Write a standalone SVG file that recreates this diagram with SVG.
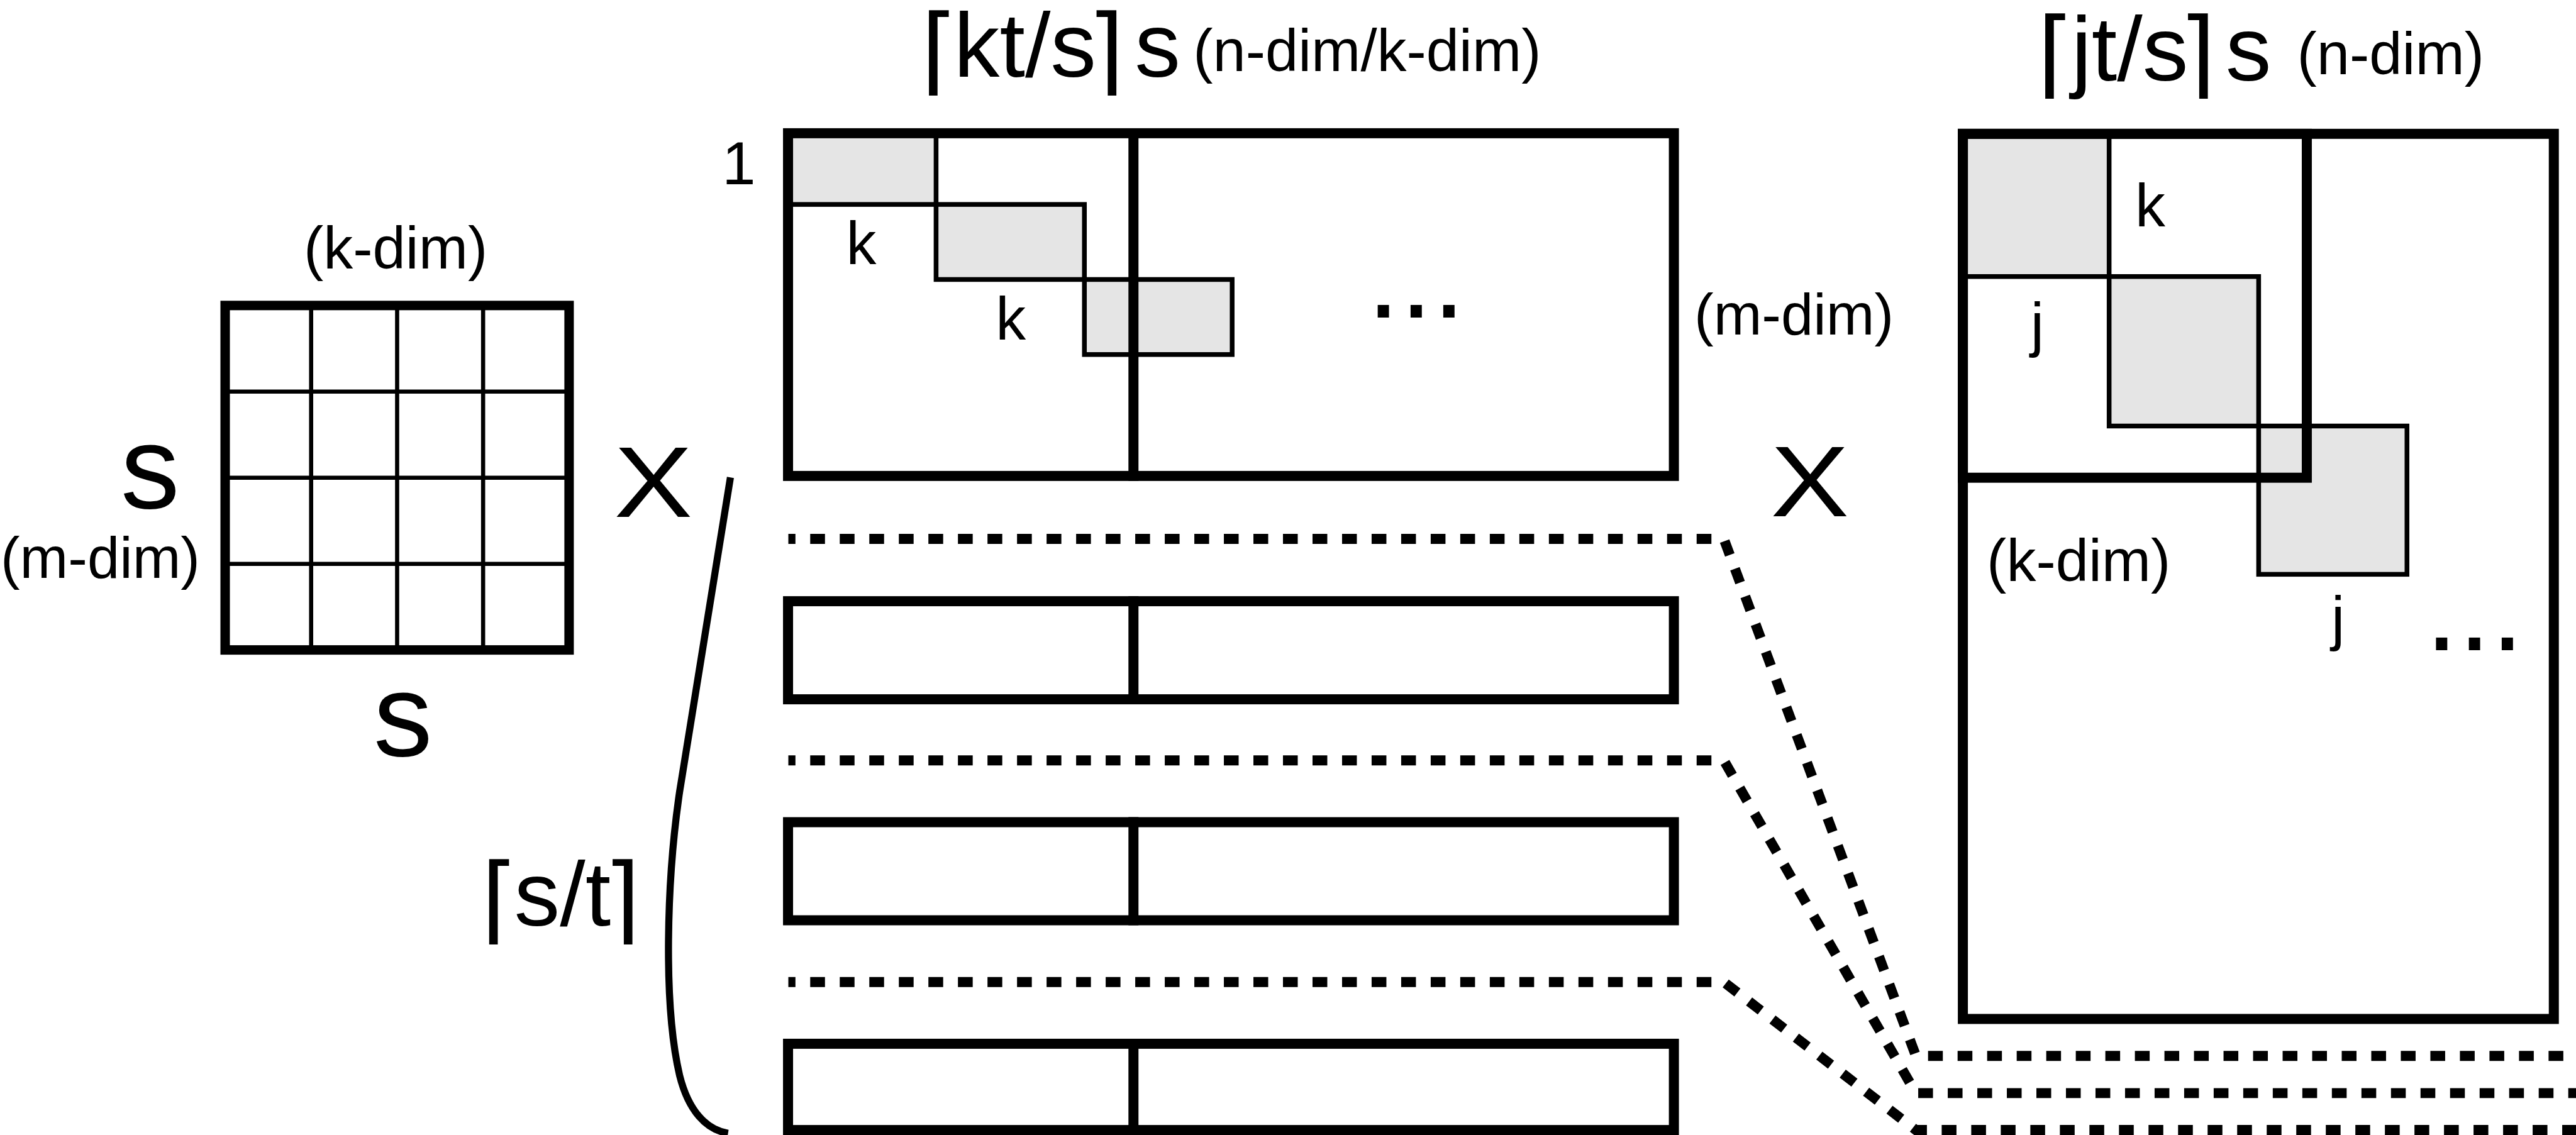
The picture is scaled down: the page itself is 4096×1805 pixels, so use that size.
<svg xmlns="http://www.w3.org/2000/svg" width="4096" height="1805" viewBox="0 0 4096 1805">
<style>
.t{font-family:"Liberation Sans",Arial,sans-serif;fill:#000}
.br{font-family:"DejaVu Sans",sans-serif;font-size:162px}
.thick{fill:none;stroke:#000;stroke-width:17}
.thin{fill:#e5e5e5;stroke:#000;stroke-width:8}
.grid{fill:none;stroke:#000;stroke-width:7}
.dot{fill:none;stroke:#000;stroke-width:17;stroke-dasharray:25 25;stroke-dashoffset:13}
.brace{fill:none;stroke:#000;stroke-width:12}
</style>
<rect width="4096" height="1805" fill="#fff"/>
<g transform="scale(0.93966)">
<g id="grid-matrix">
<rect x="381" y="517" width="582" height="583" fill="none" stroke="#000" stroke-width="16"/>
<path class="grid" d="M526.5,517V1100M672,517V1100M817.5,517V1100M381,662.75H963M381,808.5H963M381,954.25H963"/>
<text class="t" font-size="100" x="514" y="454">(k-dim)</text>
<text class="t" font-size="200" x="204" y="860">s</text>
<text class="t" font-size="98" x="1" y="978">(m-dim)</text>
<text class="t" font-size="200" x="632" y="1279">s</text>
</g>
<g id="times-left">
<text class="t" font-size="169" transform="translate(1039,875) scale(1.18,1)">X</text>
</g>
<g id="matrix-a">
<rect class="thin" x="1333.5" y="225.5" width="250.5" height="120.5"/>
<rect class="thin" x="1584" y="346" width="251" height="127"/>
<rect class="thin" x="1835" y="473" width="250" height="127"/>
<rect class="thick" x="1333.5" y="225.5" width="1499" height="580"/>
<path class="thick" d="M1918,217V814"/>
<text class="t" font-size="155"><tspan class="br" x="1558" y="140">⌈</tspan><tspan x="1614" y="130">kt/s</tspan><tspan class="br" x="1840" y="140">⌉</tspan><tspan x="1920" y="130">s</tspan></text>
<text class="t" font-size="100" x="2019" y="120">(n-dim/k-dim)</text>
<text class="t" font-size="102" x="1222" y="312">1</text>
<text class="t" font-size="102" x="1432" y="447">k</text>
<text class="t" font-size="102" x="1685" y="575">k</text>
<text class="t" font-size="200" x="2313" y="537">...</text>
<text class="t" font-size="98" x="2867" y="566">(m-dim)</text>
</g>
<g id="row-block-1">
<rect class="thick" x="1333.5" y="1017.5" width="1499" height="166"/>
<path class="thick" d="M1918,1009V1192"/>
</g>
<g id="row-block-2">
<rect class="thick" x="1333.5" y="1391.5" width="1499" height="166"/>
<path class="thick" d="M1918,1383V1566"/>
</g>
<g id="row-block-3">
<rect class="thick" x="1333.5" y="1766.5" width="1499" height="146"/>
<path class="thick" d="M1918,1758V1921"/>
</g>
<g id="count-label">
<text class="t" font-size="155"><tspan class="br" x="814" y="1577">⌈</tspan><tspan x="870" y="1567">s/t</tspan><tspan class="br" x="1021" y="1577">⌉</tspan></text>
</g>
<g id="times-right">
<text class="t" font-size="169" transform="translate(2996,874) scale(1.18,1)">X</text>
</g>
<g id="matrix-b">
<rect class="thin" x="3321.5" y="226.5" width="247.5" height="241.5"/>
<rect class="thin" x="3569" y="468" width="253" height="253"/>
<rect class="thin" x="3822" y="721" width="251" height="251"/>
<rect class="thick" x="3321.5" y="226.5" width="1000" height="1498"/>
<rect class="thick" x="3321.5" y="226.5" width="582" height="582"/>
<text class="t" font-size="155"><tspan class="br" x="3447" y="146">⌈</tspan><tspan x="3505" y="136">jt/s</tspan><tspan class="br" x="3687" y="146">⌉</tspan><tspan x="3766" y="136">s</tspan></text>
<text class="t" font-size="100" x="3887" y="126">(n-dim)</text>
<text class="t" font-size="102" x="3613" y="383">k</text>
<text class="t" font-size="102" x="3436" y="584">j</text>
<text class="t" font-size="100" x="3362" y="983">(k-dim)</text>
<text class="t" font-size="102" x="3945" y="1081">j</text>
<text class="t" font-size="200" x="4104" y="1100">...</text>
</g>
<g id="connectors">
<path class="dot" d="M1334,912H2917L3242,1787H4400"/>
<path class="dot" d="M1334,1287H2917L3242,1850H4400"/>
<path class="dot" d="M1334,1662H2917L3242,1912.5H4400"/>
<path class="brace" d="M1236,808L1150,1340C1128,1490 1122,1700 1150,1820C1165,1880 1195,1912 1232,1918"/>
</g>
</g>
</svg>
